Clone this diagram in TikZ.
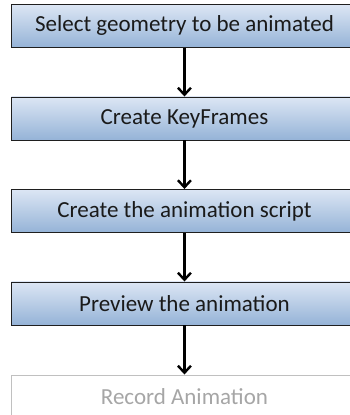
\documentclass[tikz,border=0pt]{standalone}
\usepackage{fontspec}
\setmainfont{Carlito}
\usetikzlibrary{arrows.meta}
\definecolor{boxtop}{HTML}{DCE6F4}
\definecolor{boxbot}{HTML}{95B3D7}
\definecolor{boxline}{HTML}{1F1F1F}
\definecolor{fadeline}{HTML}{C0C0C0}
\definecolor{fadetext}{HTML}{A6A6A6}
\definecolor{textcol}{HTML}{1A1A1A}
\begin{document}
\begin{tikzpicture}[x=1bp,y=1bp,
  stepbox/.style={draw=boxline, line width=0.9bp, top color=boxtop, bottom color=boxbot,
    minimum width=346bp, minimum height=43bp, inner sep=0pt, text=textcol,
    font=\fontsize{23bp}{25bp}\selectfont, anchor=north west},
  lastbox/.style={draw=fadeline, line width=0.9bp, fill=white,
    minimum width=346bp, minimum height=43bp, inner sep=0pt, text=fadetext,
    font=\fontsize{23bp}{25bp}\selectfont, anchor=north west},
  flow/.style={draw=black, line width=2.6bp, -{Straight Barb[length=7bp,width=13bp,line width=2.4bp]}}
]
\useasboundingbox (0,0) rectangle (350,-415);
\clip (0,0) rectangle (350,-415);
\node[stepbox] (b1) at (11,-4) {Select geometry to be animated};
\node[stepbox] (b2) at (11,-96.5) {Create KeyFrames};
\node[stepbox] (b3) at (11,-189) {Create the animation script};
\node[stepbox] (b4) at (11,-281.5) {Preview the animation};
\node[lastbox] (b5) at (11,-374.5) {Record Animation};
\draw[flow] (b1.south) -- (b2.north);
\draw[flow] (b2.south) -- (b3.north);
\draw[flow] (b3.south) -- (b4.north);
\draw[flow] (b4.south) -- (b5.north);
\end{tikzpicture}
\end{document}
